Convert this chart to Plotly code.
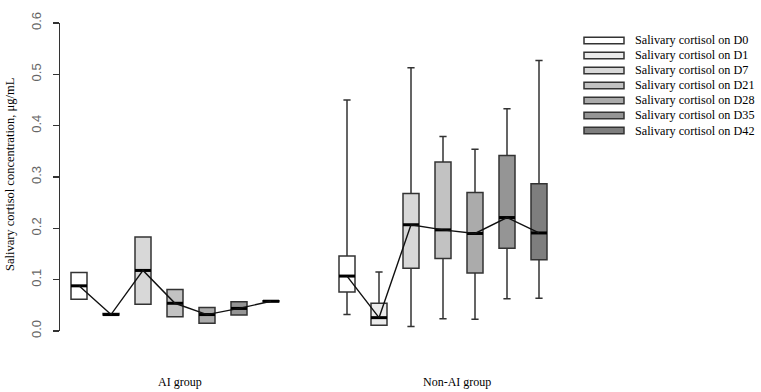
import plotly.graph_objects as go

days = ["D0", "D1", "D7", "D21", "D28", "D35", "D42"]
groups = ["AI group", "Non-AI group"]
fills = ["#ffffff", "#ebebeb", "#d8d8d8", "#c2c2c2", "#ababab", "#959595", "#7e7e7e"]

# AI group statistics per day
ai_low = [0.062, 0.031, 0.052, 0.028, 0.015, 0.031, 0.057]
ai_q1 = [0.062, 0.031, 0.052, 0.028, 0.015, 0.031, 0.057]
ai_med = [0.088, 0.032, 0.118, 0.054, 0.032, 0.044, 0.058]
ai_q3 = [0.114, 0.034, 0.183, 0.081, 0.046, 0.057, 0.059]
ai_high = [0.114, 0.034, 0.183, 0.081, 0.046, 0.057, 0.059]

# Non-AI group statistics per day
nai_low = [0.032, 0.011, 0.009, 0.024, 0.023, 0.063, 0.064]
nai_q1 = [0.076, 0.011, 0.122, 0.141, 0.113, 0.161, 0.139]
nai_med = [0.107, 0.026, 0.207, 0.197, 0.190, 0.221, 0.191]
nai_q3 = [0.146, 0.054, 0.268, 0.329, 0.270, 0.342, 0.287]
nai_high = [0.450, 0.115, 0.513, 0.379, 0.354, 0.433, 0.527]

# layout geometry (pixels)
W, H = 761, 392
L, R, T, B = 60, 560, 13, 331
gap = 2.375
ai_x = [1 + i for i in range(len(days))]
nai_x = [1 + gap + len(days) - 1 + i for i in range(len(days))]
x0 = 1 - (79 - L) / 32.0
x1 = 1 + (R - 79) / 32.0

def px2x(px):
    return x0 + (px - L) / (R - L) * (x1 - x0)

fig = go.Figure()
for i, d in enumerate(days):
    fig.add_trace(go.Box(
        x=[ai_x[i], nai_x[i]],
        q1=[ai_q1[i], nai_q1[i]],
        median=[ai_med[i], nai_med[i]],
        q3=[ai_q3[i], nai_q3[i]],
        lowerfence=[ai_low[i], nai_low[i]],
        upperfence=[ai_high[i], nai_high[i]],
        width=0.5, whiskerwidth=0.45,
        fillcolor=fills[i],
        line=dict(color="#333333", width=1.5),
        boxpoints=False, showlegend=False, hoverinfo="skip",
        name="Salivary cortisol on " + d,
    ))

# thick median bars
mx, my = [], []
for xs, meds in ((ai_x, ai_med), (nai_x, nai_med)):
    for xv, m in zip(xs, meds):
        mx += [xv - 0.25, xv + 0.25, None]
        my += [m, m, None]
fig.add_trace(go.Scatter(x=mx, y=my, mode="lines", line=dict(color="black", width=3),
                         showlegend=False, hoverinfo="skip"))

# connecting lines through medians
for xs, meds in ((ai_x, ai_med), (nai_x, nai_med)):
    fig.add_trace(go.Scatter(x=xs, y=meds, mode="lines", line=dict(color="#111111", width=1.4),
                             showlegend=False, hoverinfo="skip"))

serif = "Liberation Serif, Times New Roman, serif"
annotations = []
shapes = []

# group labels
for lbl, cx in zip(groups, [180, 457]):
    annotations.append(dict(x=px2x(cx), y=-(384 - B) / (B - T), xref="x", yref="paper",
                            text=lbl, showarrow=False, xanchor="center", yanchor="middle",
                            font=dict(family=serif, size=12, color="black")))

# y-axis title
annotations.append(dict(x=(10 - L) / (R - L), y=(B - 170) / (B - T), xref="paper", yref="paper",
                        text="Salivary cortisol concentration, μg/mL", textangle=-90,
                        showarrow=False, xanchor="center", yanchor="middle",
                        font=dict(family=serif, size=12.5, color="black")))

# legend
for i, d in enumerate(days):
    cy = 31 + 15.5 * i
    shapes.append(dict(type="rect", xref="paper", yref="paper",
                       x0=(584 - L) / (R - L), x1=(624 - L) / (R - L),
                       y0=(B - (cy + 3.3)) / (B - T), y1=(B - (cy - 3.3)) / (B - T),
                       fillcolor=fills[i], line=dict(color="#333333", width=1.5)))
    annotations.append(dict(x=(633 - L) / (R - L), y=(B - cy) / (B - T), xref="paper", yref="paper",
                            text="Salivary cortisol on " + d, showarrow=False,
                            xanchor="left", yanchor="middle",
                            font=dict(family=serif, size=12.2, color="black")))

fig.update_layout(
    width=W, height=H,
    margin=dict(l=L, r=W - R, t=T, b=H - B, pad=0),
    plot_bgcolor="white", paper_bgcolor="white",
    xaxis=dict(range=[x0, x1], visible=False),
    yaxis=dict(range=[0, 0.6], tickvals=[0, 0.1, 0.2, 0.3, 0.4, 0.5, 0.6],
               ticktext=["0.0", "0.1", "0.2", "0.3", "0.4", "0.5", "0.6"],
               tickangle=-90, ticks="outside", ticklen=6, tickcolor="#333333", tickwidth=1.5,
               showline=True, linecolor="#333333", linewidth=1.5, showgrid=False, zeroline=False,
               ticklabelstandoff=6,
               tickfont=dict(family="Liberation Sans, Arial, sans-serif", size=13, color="#666666")),
    annotations=annotations, shapes=shapes,
    showlegend=False,
)

fig.write_html("out.html",
               config={"displayModeBar": False, "staticPlot": True},
               post_script="document.body.style.margin='0';document.body.style.padding='0';"
                           "document.body.style.overflow='hidden';")
